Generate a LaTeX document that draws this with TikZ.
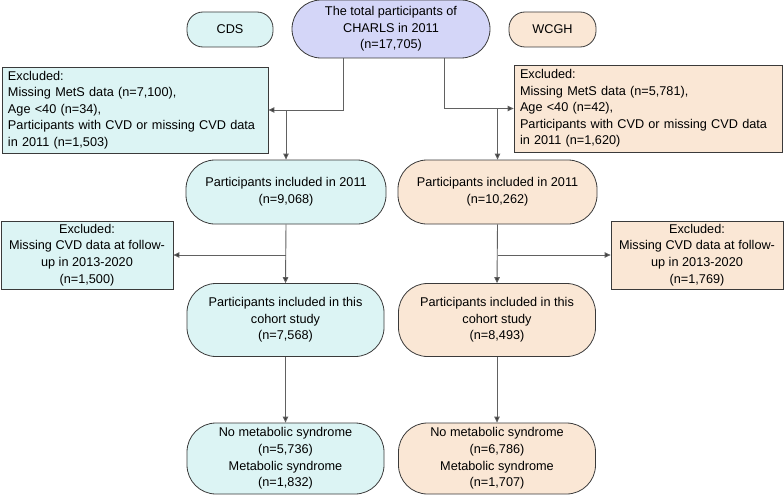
\documentclass[tikz,border=0pt]{standalone}
\usepackage{fontspec}
\setmainfont{Liberation Sans}
\usetikzlibrary{arrows.meta}
\definecolor{cdsfill}{HTML}{DCF4F4}
\definecolor{wcghfill}{HTML}{FAE7D5}
\definecolor{totalfill}{HTML}{D4D6F8}
\definecolor{edgegray}{HTML}{3A3A3A}

\begin{document}
\begin{tikzpicture}[x=1pt,y=-1pt]
    \tikzset{box/.style={draw=edgegray,line width=0.8pt,align=center,inner sep=0pt,
        font=\fontsize{12.7}{16.6}\selectfont},
    roundbox/.style={box,rounded corners=29pt},
    exclbox/.style={box,align=left,text width=#1},
    flow/.style={draw=edgegray!80,line width=0.9pt,-{Triangle[length=6pt,width=5.5pt,fill=edgegray]}}}
    \useasboundingbox (0,0) rectangle (784,495);
    % top row
    \node[roundbox,fill=totalfill,minimum width=198pt,minimum height=58pt] (total) at (391,29)
        {The total participants of\\CHARLS in 2011\\(n=17,705)};
    \node[roundbox,rounded corners=16pt,fill=cdsfill,minimum width=86pt,minimum height=35pt] (cds) at (230,29.5) {CDS};
    \node[roundbox,rounded corners=16pt,fill=wcghfill,minimum width=87pt,minimum height=35pt] (wcgh) at (552.5,29.5) {WCGH};
    % CDS branch
    \node[exclbox=254pt,fill=cdsfill,minimum width=266pt,minimum height=86pt] (cdsexA) at (135,110)
        {Excluded:\\Missing MetS data (n=7,100),\\Age <40 (n=34),\\Participants with CVD or missing CVD data\\in 2011 (n=1,503)};
    \node[roundbox,fill=cdsfill,minimum width=200pt,minimum height=64pt] (cds1) at (286,192)
        {Participants included in 2011\\(n=9,068)};
    \node[box,fill=cdsfill,minimum width=172pt,minimum height=68pt] (cdsexB) at (87,255)
        {Excluded:\\Missing CVD data at follow-\\up in 2013-2020\\(n=1,500)};
    \node[roundbox,fill=cdsfill,minimum width=197pt,minimum height=73pt] (cds2) at (285.5,320)
        {Participants included in this\\cohort study\\(n=7,568)};
    \node[roundbox,fill=cdsfill,minimum width=197pt,minimum height=71pt] (cds3) at (285.5,458.5)
        {No metabolic syndrome\\(n=5,736)\\Metabolic syndrome\\(n=1,832)};
    % WCGH branch
    \node[exclbox=256pt,fill=wcghfill,minimum width=268pt,minimum height=87pt] (wcghexA) at (648,108.5)
        {Excluded:\\Missing MetS data (n=5,781),\\Age <40 (n=42),\\Participants with CVD or missing CVD data\\in 2011 (n=1,620)};
    \node[roundbox,fill=wcghfill,minimum width=199pt,minimum height=64pt] (wcgh1) at (497.5,192)
        {Participants included in 2011\\(n=10,262)};
    \node[box,fill=wcghfill,minimum width=172pt,minimum height=68pt] (wcghexB) at (697,255)
        {Excluded:\\Missing CVD data at follow-\\up in 2013-2020\\(n=1,769)};
    \node[roundbox,fill=wcghfill,minimum width=197pt,minimum height=73pt] (wcgh2) at (497,320)
        {Participants included in this\\cohort study\\(n=8,493)};
    \node[roundbox,fill=wcghfill,minimum width=197pt,minimum height=71pt] (wcgh3) at (497,458.5)
        {No metabolic syndrome\\(n=6,786)\\Metabolic syndrome\\(n=1,707)};
    % connectors
    \draw[flow] ([xshift=-48pt]total.south) |- (cdsexA.east);
    \draw[flow] ([xshift=53pt]total.south) |- (wcghexA.west);
    \draw[flow] (cds1.north |- cdsexA.east) -- (cds1.north);
    \draw[flow] (wcgh1.north |- wcghexA.west) -- (wcgh1.north);
    \draw[flow] (cds1.south) -- (cds2.north);
    \draw[flow] (wcgh1.south) -- (wcgh2.north);
    \draw[flow] (cds1.south |- cdsexB.east) -- (cdsexB.east);
    \draw[flow] (wcgh1.south |- wcghexB.west) -- (wcghexB.west);
    \draw[flow] (cds2.south) -- (cds3.north);
    \draw[flow] (wcgh2.south) -- (wcgh3.north);
\end{tikzpicture}
\end{document}
